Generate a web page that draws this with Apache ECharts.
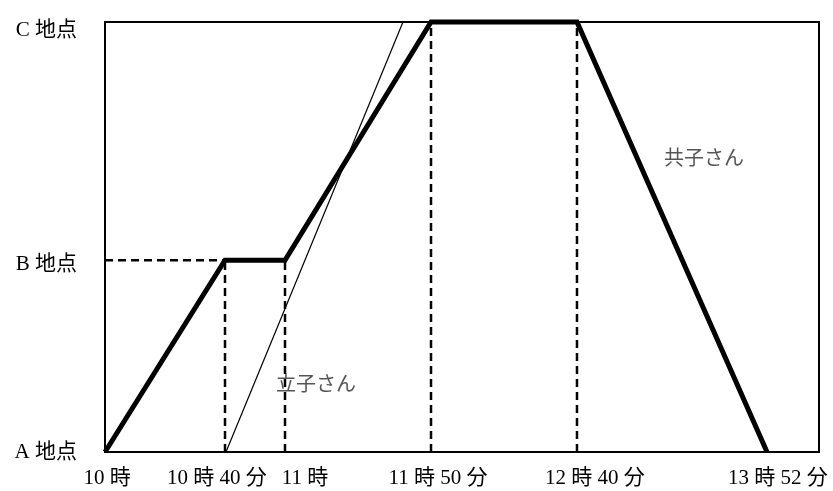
<!DOCTYPE html>
<html><head><meta charset="utf-8">
<script src="https://cdn.jsdelivr.net/npm/echarts@6/dist/echarts.min.js"></script>
<style>html,body{margin:0;padding:0;background:#fff}#c{width:833px;height:491px}</style>
</head><body><div id="c"></div>
<script>
// Time marks (the drawing is schematic: positions are in drawing units)
const timeLabels = ['10時', '10時40分', '11時', '11時50分', '12時40分', '13時52分'];
const timeMarks = [0, 40, 60, 108.67, 157.33, 220.67];
const timeLabelAt = [0.67, 37.33, 66.67, 111, 163.33, 224.33];

// Places (vertical)
const placeLabels = ['A地点', 'B地点', 'C地点'];
const placeLevels = [0, 0.446, 1];
const placeLabelAt = [0.0, 0.435, 0.98];

// 共子さん (thick line)
const kyokoX = [0, 40, 60, 108.67, 157.33, 220.67];
const kyokoY = [0, 0.446, 0.446, 1, 1, 0];

// 立子さん (thin line)
const ritsukoX = [40.33, 99.33];
const ritsukoY = [0, 1];

// Name labels
const nameLabels = ['共子さん', '立子さん'];
const nameAtX = [199.67, 70.33];
const nameAtY = [0.684, 0.16];

const zip = (xs, ys) => xs.map((x, i) => [x, ys[i]]);
const nearestIdx = (arr, v) => {
  let best = 0;
  arr.forEach((a, i) => { if (Math.abs(a - v) < Math.abs(arr[best] - v)) best = i; });
  return best;
};
const spaced = s => s.replace(/(\d)(?=[^\d\s])/g, '$1 ').replace(/([^\d\sA-Za-z])(?=\d)/g, '$1 ').replace(/([A-Za-z])(?=[^\sA-Za-z])/g, '$1 ');

const dashStyle = { color: '#000', width: 2.5, type: [8, 5] };
const guides = [
  [[0, placeLevels[1]], [timeMarks[1], placeLevels[1]]],
  [[timeMarks[1], 0], [timeMarks[1], placeLevels[1]]],
  [[timeMarks[2], 0], [timeMarks[2], placeLevels[1]]],
  [[timeMarks[3], 0], [timeMarks[3], placeLevels[2]]],
  [[timeMarks[4], 0], [timeMarks[4], placeLevels[2]]]
];

const labelFont = "'Liberation Serif', 'Noto Sans CJK JP', serif";

const series = guides.map(g => ({
  type: 'line', data: g, symbol: 'none', silent: true, clip: false,
  lineStyle: dashStyle, z: 4
}));
series.push({
  type: 'line', name: '立子さん', data: zip(ritsukoX, ritsukoY), symbol: 'none', clip: false,
  lineStyle: { color: '#000', width: 1.2 }, z: 2
});
series.push({
  type: 'line', name: '共子さん', data: zip(kyokoX, kyokoY), symbol: 'none', clip: false,
  lineStyle: { color: '#000', width: 5, cap: 'butt', join: 'miter' }, z: 3
});
series.push({
  type: 'scatter', symbolSize: 0, silent: true, z: 1,
  data: nameLabels.map((n, i) => ({ value: [nameAtX[i], nameAtY[i]], name: n })),
  label: {
    show: true, position: 'inside', formatter: p => p.name,
    fontFamily: "'Noto Sans CJK JP', sans-serif", fontSize: 20, color: '#2a2a2a'
  }
});

const chart = echarts.init(document.getElementById('c'), null, { renderer: 'canvas' });
chart.setOption({
  animation: false,
  backgroundColor: '#fff',
  grid: { left: 105, top: 22, right: 14, bottom: 39, show: true, borderColor: '#000', borderWidth: 2, backgroundColor: 'transparent' },
  xAxis: {
    type: 'value', min: 0, max: 238,
    axisLine: { show: false }, axisTick: { show: false }, splitLine: { show: false },
    axisLabel: {
      customValues: timeLabelAt, margin: 16,
      formatter: v => spaced(timeLabels[nearestIdx(timeLabelAt, v)]),
      fontFamily: labelFont, fontSize: 21, color: '#000'
    }
  },
  yAxis: {
    type: 'value', min: 0, max: 1,
    axisLine: { show: false }, axisTick: { show: false }, splitLine: { show: false },
    axisLabel: {
      customValues: placeLabelAt, margin: 28, align: 'right',
      formatter: v => spaced(placeLabels[nearestIdx(placeLabelAt, v)]),
      fontFamily: labelFont, fontSize: 21, color: '#000'
    }
  },
  series: series
});
</script>
</body></html>
